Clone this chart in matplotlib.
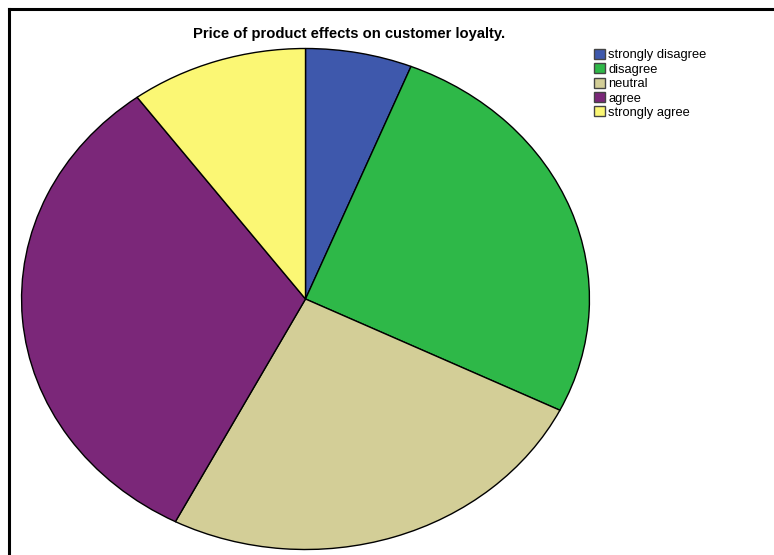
import matplotlib
matplotlib.use("Agg")
import matplotlib.pyplot as plt
from matplotlib.lines import Line2D

plt.rcParams['font.family'] = ['Liberation Sans', 'DejaVu Sans']

# response categories and number of answers
labels = ['strongly disagree', 'disagree', 'neutral', 'agree', 'strongly agree']
counts = [6, 26, 25, 32, 10]
colors = ['#3E58AC', '#2EB848', '#D3CE97', '#7B2779', '#FBF774']

W, H = 774, 555
fig = plt.figure(figsize=(W / 100, H / 100), dpi=100)

# pie sits in its own axes, stretched into an ellipse
cx, cy, rx, ry = 305.5, 299, 284.5, 251
ax = fig.add_axes([(cx - rx) / W, 1 - (cy + ry) / H, 2 * rx / W, 2 * ry / H])
wedges, _ = ax.pie(counts, colors=colors, startangle=90, counterclock=False,
                   wedgeprops=dict(edgecolor='black', linewidth=1.0))
ax.set_aspect('auto')
ax.set_xlim(-1.002, 1.002)
ax.set_ylim(-1.002, 1.002)

fig.text(349 / W, 1 - 34 / H, 'Price of product effects on customer loyalty.',
         ha='center', va='center', fontsize=10.65, fontweight='bold')

leg = fig.legend(wedges, labels, loc='upper left', bbox_to_anchor=(594 / W, 1 - 49 / H),
                 frameon=False, fontsize=9.3, handlelength=0.85, handleheight=0.8,
                 handletextpad=0.25, labelspacing=0.15, borderaxespad=0, borderpad=0)
for h in leg.legend_handles:
    h.set_edgecolor('#444444')

# frame lines along the top and left edges
fig.add_artist(Line2D([9 / W, 1], [1 - 9 / H, 1 - 9 / H], color='black', linewidth=2.2,
                      transform=fig.transFigure))
fig.add_artist(Line2D([9 / W, 9 / W], [0, 1 - 9 / H], color='black', linewidth=2.2,
                      transform=fig.transFigure))

fig.savefig('out.png', dpi=100)
